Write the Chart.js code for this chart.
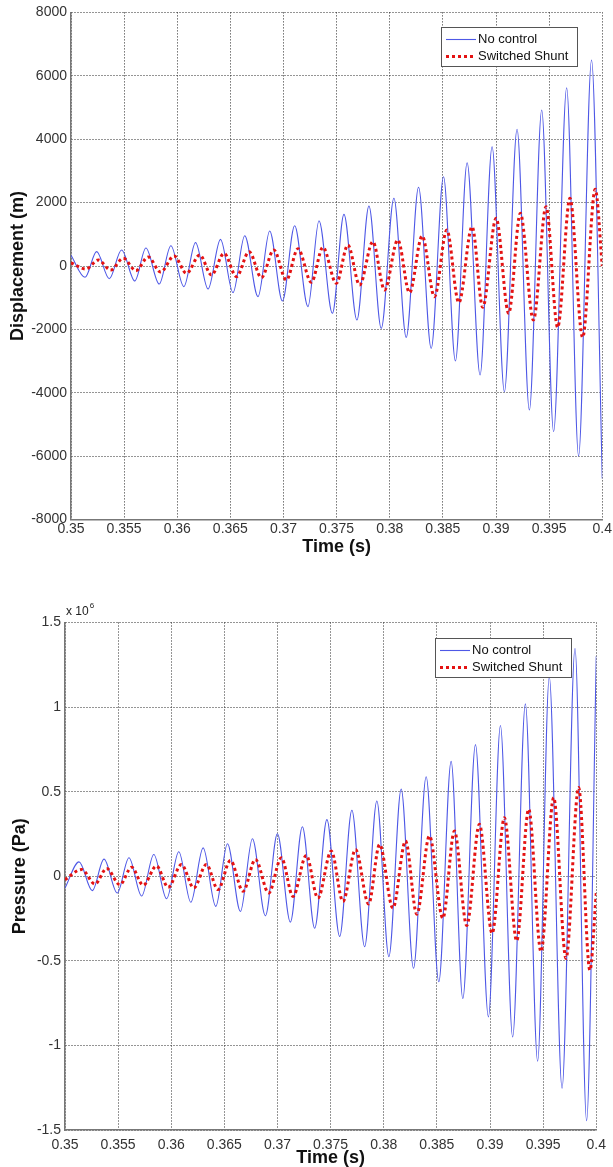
<!DOCTYPE html>
<html>
<head>
<meta charset="utf-8">
<script src="https://cdn.jsdelivr.net/npm/chart.js@4.4.1/dist/chart.umd.min.js"></script>
<style>
  html, body { margin: 0; padding: 0; background: #fff; overflow: hidden; }
  canvas { display: block; }
</style>
</head>
<body>
<canvas id="dispChart" width="613" height="565"></canvas>
<canvas id="pressChart" width="613" height="602"></canvas>
<script>
// time axis (shared)
const timeTicks = [0.35, 0.355, 0.36, 0.365, 0.37, 0.375, 0.38, 0.385, 0.39, 0.395, 0.4];
const timeTickLabels = ['0.35', '0.355', '0.36', '0.365', '0.37', '0.375', '0.38', '0.385', '0.39', '0.395', '0.4'];

// displacement (m) - peaks / troughs
const dispTicks = [-8000, -6000, -4000, -2000, 0, 2000, 4000, 6000, 8000];
const dispTimeNoControl = [0.35, 0.35132, 0.35241, 0.3536, 0.35476, 0.35601, 0.35705, 0.3583, 0.3594, 0.36062,
  0.36172, 0.3629, 0.36407, 0.36525, 0.36635, 0.3676, 0.3687, 0.3699, 0.37105, 0.3723,
  0.37334, 0.3746, 0.37569, 0.37691, 0.37804, 0.3792, 0.38039, 0.38155, 0.38271, 0.3839,
  0.38506, 0.38618, 0.38728, 0.3885, 0.38963, 0.39079, 0.39198, 0.39314, 0.3943, 0.39542,
  0.39665, 0.39777, 0.39899, 0.4];
const dispNoControl = [340, -357, 452, -400, 505, -473, 568, -568, 641, -652,
  736, -725, 841, -841, 956, -967, 1104, -1104, 1272, -1282,
  1429, -1492, 1629, -1703, 1893, -1967, 2135, -2250, 2482, -2597,
  2817, -2997, 3259, -3438, 3764, -3965, 4312, -4543, 4921, -5226,
  5625, -5994, 6498, -6700];
const dispTimeShunt = [0.35, 0.35141, 0.35257, 0.35373, 0.35492, 0.35611, 0.35727, 0.35843, 0.35971, 0.36087,
  0.36212, 0.36322, 0.36441, 0.36557, 0.36676, 0.36792, 0.36908, 0.37027, 0.37136, 0.37262,
  0.37371, 0.37497, 0.37606, 0.37716, 0.37841, 0.37951, 0.38076, 0.38186, 0.38305, 0.38421,
  0.38537, 0.3865, 0.38775, 0.38875, 0.39001, 0.39119, 0.39229, 0.39352, 0.39471, 0.3958,
  0.39696, 0.39815, 0.39934, 0.4];
const dispShunt = [100, -95, 189, -126, 242, -147, 284, -189, 315, -231,
  347, -284, 400, -336, 452, -368, 505, -441, 547, -515,
  589, -547, 662, -599, 767, -757, 820, -842, 946, -968,
  1136, -1157, 1240, -1303, 1505, -1492, 1662, -1703, 1871, -1934,
  2135, -2250, 2420, 0];

// pressure (x 10^6 Pa)
const pressTicks = [-1.5, -1, -0.5, 0, 0.5, 1, 1.5];
const pressTickLabels = ['-1.5', '-1', '-0.5', '0', '0.5', '1', '1.5'];
const pressTimeNoControl = [0.35, 0.35132, 0.35257, 0.35367, 0.35492, 0.35602, 0.35721, 0.35836, 0.35956, 0.36071,
  0.36184, 0.363, 0.36419, 0.36529, 0.36651, 0.36764, 0.36886, 0.36999, 0.37121, 0.37234,
  0.3735, 0.37465, 0.37585, 0.377, 0.3782, 0.37935, 0.38048, 0.38164, 0.3828, 0.38399,
  0.38518, 0.38634, 0.38744, 0.38863, 0.38985, 0.39098, 0.39213, 0.39333, 0.39448, 0.39558,
  0.39678, 0.398, 0.39909, 0.4];
const pressNoControl = [-0.07, 0.085, -0.085, 0.101, -0.099, 0.109, -0.117, 0.129, -0.133, 0.145,
  -0.154, 0.168, -0.178, 0.192, -0.208, 0.222, -0.234, 0.251, -0.271, 0.293,
  -0.307, 0.335, -0.356, 0.39, -0.416, 0.445, -0.475, 0.515, -0.544, 0.588,
  -0.624, 0.679, -0.723, 0.778, -0.831, 0.891, -0.95, 1.019, -1.094, 1.178,
  -1.253, 1.346, -1.445, 1.3];
const pressTimeShunt = [0.35, 0.35157, 0.35282, 0.35392, 0.35517, 0.35627, 0.35736, 0.35861, 0.35971, 0.36096,
  0.36212, 0.36331, 0.3644, 0.36557, 0.36676, 0.36792, 0.36917, 0.37036, 0.37146, 0.37271,
  0.3738, 0.37506, 0.37616, 0.37735, 0.37857, 0.37961, 0.38086, 0.38205, 0.38311, 0.3843,
  0.38556, 0.38665, 0.38781, 0.389, 0.3902, 0.39135, 0.39251, 0.39364, 0.3948, 0.39599,
  0.39715, 0.39834, 0.3994, 0.4];
const pressShunt = [-0.02, 0.04, -0.046, 0.046, -0.05, 0.053, -0.053, 0.061, -0.065, 0.069,
  -0.069, 0.069, -0.079, 0.093, -0.089, 0.099, -0.099, 0.109, -0.119, 0.123,
  -0.129, 0.149, -0.149, 0.158, -0.164, 0.188, -0.188, 0.208, -0.224, 0.238,
  -0.248, 0.267, -0.291, 0.307, -0.337, 0.346, -0.382, 0.396, -0.445, 0.465,
  -0.485, 0.524, -0.556, -0.1];

const FONT = '"Liberation Sans", Arial, sans-serif';

function toPoints(times, values) {
  return times.map((t, i) => ({ x: t, y: values[i] }));
}

// legend box drawn inside the plot, top right (matlab style)
const boxLegend = {
  id: 'boxLegend',
  afterDatasetsDraw(chart) {
    const { ctx, chartArea } = chart;
    const w = 136, h = 39;
    const left = Math.round(chartArea.right - 25 - w);
    const top = Math.round(chartArea.top + 15);
    ctx.save();
    ctx.fillStyle = '#fff';
    ctx.fillRect(left, top, w, h);
    ctx.strokeStyle = '#555';
    ctx.lineWidth = 1;
    ctx.strokeRect(left + 0.5, top + 0.5, w, h);
    ctx.font = '13px ' + FONT;
    ctx.textBaseline = 'middle';
    chart.data.datasets.forEach((ds, i) => {
      const y = top + 12.5 + i * 17;
      ctx.setLineDash(ds.borderDash || []);
      ctx.lineWidth = ds.borderWidth;
      ctx.strokeStyle = ds.borderColor;
      ctx.beginPath();
      ctx.moveTo(left + 5, y);
      ctx.lineTo(left + 35, y);
      ctx.stroke();
      ctx.setLineDash([]);
      ctx.fillStyle = '#111';
      ctx.fillText(ds.label, left + 37, y);
    });
    ctx.restore();
  }
};

// "x 10^6" above the y axis
const exponentLabel = {
  id: 'exponentLabel',
  afterDraw(chart) {
    const { ctx, chartArea } = chart;
    ctx.save();
    ctx.fillStyle = '#222';
    ctx.textBaseline = 'middle';
    ctx.font = '12px ' + FONT;
    ctx.fillText('x 10', chartArea.left + 1, chartArea.top - 11);
    const w = ctx.measureText('x 10').width;
    ctx.font = '8px ' + FONT;
    ctx.fillText('6', chartArea.left + 2 + w, chartArea.top - 17);
    ctx.restore();
  }
};

function makeChart(id, s) {
  return new Chart(document.getElementById(id), {
    type: 'line',
    data: {
      datasets: [{
        label: 'No control',
        data: toPoints(s.t1, s.v1),
        borderColor: 'rgb(78,88,230)',
        borderWidth: 1.1,
        pointRadius: 0,
        cubicInterpolationMode: 'monotone',
        order: 1
      }, {
        label: 'Switched Shunt',
        data: toPoints(s.t2, s.v2),
        borderColor: 'rgb(228,18,18)',
        borderWidth: 3,
        borderDash: [3, 3],
        pointRadius: 0,
        cubicInterpolationMode: 'monotone',
        order: 0
      }]
    },
    options: {
      animation: false,
      responsive: false,
      devicePixelRatio: 1,
      layout: { padding: s.padding },
      plugins: {
        legend: { display: false },
        tooltip: { enabled: false }
      },
      scales: {
        x: {
          type: 'linear',
          min: 0.35,
          max: 0.4,
          afterBuildTicks: (axis) => { axis.ticks = timeTicks.map(v => ({ value: v })); },
          afterFit: (axis) => { axis.height = s.xHeight; },
          ticks: {
            autoSkip: false,
            maxRotation: 0,
            padding: s.xTickPad,
            color: '#333',
            font: { family: FONT, size: 14 },
            callback: (v, i) => timeTickLabels[i]
          },
          grid: { color: '#2a2a2a', lineWidth: 1, drawTicks: false },
          border: { color: '#777', width: 1.5, dash: [1, 2] },
          title: {
            display: true,
            text: 'Time (s)',
            color: '#111',
            font: { family: FONT, size: 18, weight: 'bold', lineHeight: 1 },
            padding: { top: 0, bottom: s.xTitlePad }
          }
        },
        y: {
          min: s.yTicks[0],
          max: s.yTicks[s.yTicks.length - 1],
          afterBuildTicks: (axis) => { axis.ticks = s.yTicks.map(v => ({ value: v })); },
          afterFit: (axis) => { axis.width = s.yWidth; },
          ticks: {
            padding: 4,
            color: '#333',
            font: { family: FONT, size: 14 },
            callback: (v, i) => s.yLabels[i]
          },
          grid: { color: '#2a2a2a', lineWidth: 1, drawTicks: false },
          border: { color: '#777', width: 1.5, dash: [1, 2] },
          title: {
            display: true,
            text: s.yTitle,
            color: '#111',
            font: { family: FONT, size: 18, weight: 'bold', lineHeight: 1 },
            padding: { top: s.yTitlePad, bottom: 0 }
          }
        }
      }
    },
    plugins: s.plugins
  });
}

makeChart('dispChart', {
  t1: dispTimeNoControl, v1: dispNoControl,
  t2: dispTimeShunt, v2: dispShunt,
  yTicks: dispTicks,
  yLabels: dispTicks.map(String),
  yTitle: 'Displacement (m)',
  padding: { top: 12.4, right: 10, bottom: 0, left: 0 },
  yWidth: 71,
  xHeight: 45.4,
  xTickPad: 1,
  xTitlePad: 9,
  yTitlePad: 9,
  plugins: [boxLegend]
});

makeChart('pressChart', {
  t1: pressTimeNoControl, v1: pressNoControl,
  t2: pressTimeShunt, v2: pressShunt,
  yTicks: pressTicks,
  yLabels: pressTickLabels,
  yTitle: 'Pressure (Pa)',
  padding: { top: 57.5, right: 16, bottom: 0, left: 0 },
  yWidth: 65,
  xHeight: 37,
  xTickPad: 7,
  xTitlePad: 0,
  yTitlePad: 11,
  plugins: [boxLegend, exponentLabel]
});
</script>
</body>
</html>
